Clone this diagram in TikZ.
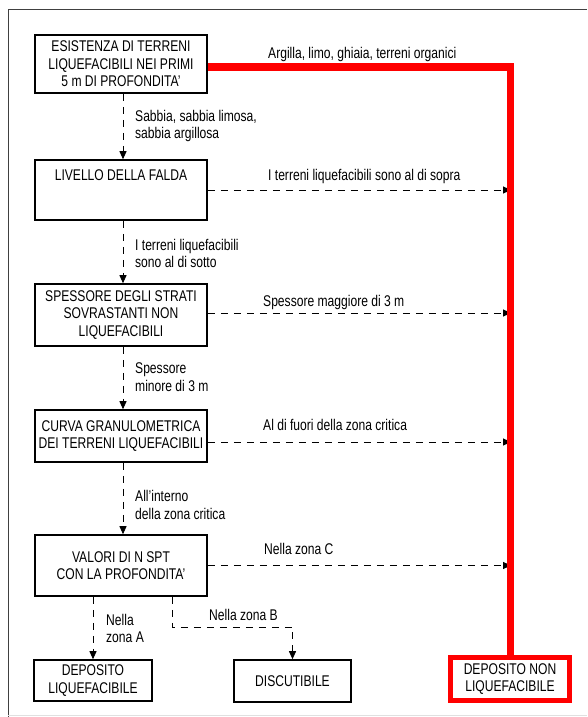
\documentclass[tikz,border=0pt]{standalone}
\usepackage{fontspec}
\setmainfont{Liberation Sans}[FakeStretch=0.78]
\usetikzlibrary{arrows.meta}
\begin{document}
\begin{tikzpicture}[x=1pt,y=-1pt,
  font=\fontsize{15.5}{17.5}\selectfont,
  box/.style={draw, line width=1.6pt, minimum width=172pt, inner sep=0pt, align=center},
  lab/.style={anchor=west, align=left, inner sep=0pt},
  dsh/.style={line width=0.9pt, dash pattern=on 7pt off 6pt, -{Triangle[length=8pt,width=7pt]}},
  redline/.style={red, line width=7pt}]
\useasboundingbox (0,0) rectangle (587,717);
% frame
\draw[line width=1pt, black!75] (8,717) -- (8,10) -- (587,10);
\draw[line width=1pt, black!12] (8,715) -- (587,715);
% boxes
\node[box, minimum height=58pt] (b1) at (121,64) {ESISTENZA DI TERRENI\\LIQUEFACIBILI NEI PRIMI\\5 m DI PROFONDITA'};
\node[box, minimum height=60pt] (b2) at (121,190) {};
\node[inner sep=0pt] (t2) at (121,175) {LIVELLO DELLA FALDA};
\node[box, minimum height=62pt] (b3) at (121,315) {SPESSORE DEGLI STRATI\\SOVRASTANTI NON\\LIQUEFACIBILI};
\node[box, minimum height=52pt] (b4) at (121,436) {CURVA GRANULOMETRICA\\DEI TERRENI LIQUEFACIBILI};
\node[box, minimum height=61pt] (b5) at (121,565.5) {VALORI DI N SPT\\CON LA PROFONDITA'};
\node[box, minimum width=118pt, minimum height=41pt] (bA) at (93,680.5) {DEPOSITO\\LIQUEFACIBILE};
\node[box, minimum width=117pt, minimum height=42pt] (bB) at (292.5,681) {DISCUTIBILE};
\node[box, draw=red, line width=5pt, minimum width=119pt, minimum height=43pt] (bR) at (510,679) {DEPOSITO NON\\LIQUEFACIBILE};
% horizontal dashed arrows
\coordinate (rx) at (511,0);
\draw[dsh] (b2.east) -- (b2.east -| rx);
\draw[dsh] ([yshift=2pt]b3.east) -- ([yshift=2pt]b3.east -| rx);
\draw[dsh] ([yshift=-6pt]b4.east) -- ([yshift=-6pt]b4.east -| rx);
\draw[dsh] (b5.east) -- (b5.east -| rx);
% red path
\draw[redline] ([yshift=-3pt]b1.east) -| (bR.north);
% vertical dashed arrows
\draw[dsh] ([xshift=2pt]b1.south) -- ([xshift=2pt]b2.north);
\draw[dsh] ([xshift=2pt]b2.south) -- ([xshift=2pt]b3.north);
\draw[dsh] ([xshift=2pt]b3.south) -- ([xshift=2pt]b4.north);
\draw[dsh] ([xshift=2pt]b4.south) -- ([xshift=2pt]b5.north);
\draw[dsh] (b5.south -| bA.north) -- (bA.north);
\coordinate (zb) at (172,627);
\draw[dsh] (b5.south -| zb) -- (zb) -| (bB.north);
% labels
\node[lab] (l1) at (268,54) {Argilla, limo, ghiaia, terreni organici};
\node[lab] (l2) at (268,176) {I terreni liquefacibili sono al di sopra};
\node[lab] (l3) at (263,302) {Spessore maggiore di 3 m};
\node[lab] (l4) at (263,425) {Al di fuori della zona critica};
\node[lab] (l5) at (264,549) {Nella zona C};
\node[lab] (v1) at (135,126) {Sabbia, sabbia limosa,\\sabbia argillosa};
\node[lab] (v2) at (135,253.5) {I terreni liquefacibili\\sono al di sotto};
\node[lab] (v3) at (135,377) {Spessore\\minore di 3 m};
\node[lab] (v4) at (135,505) {All'interno\\della zona critica};
\node[lab] (vA) at (106,628.5) {Nella\\zona A};
\node[lab] (vB) at (209,615) {Nella zona B};
\end{tikzpicture}
\end{document}
